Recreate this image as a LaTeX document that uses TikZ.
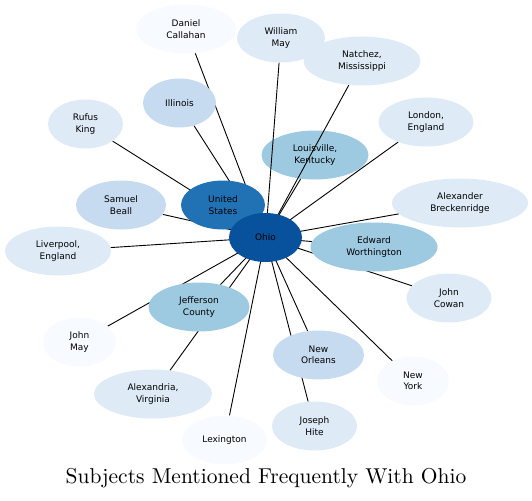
\documentclass[tikz,border=0pt]{standalone}
\usepackage{fontspec}
\newfontfamily\bubblefont{DejaVu Sans}
\newfontfamily\titlefont{lmroman10-regular}[Extension=.otf]
\usetikzlibrary{shapes.geometric}

\definecolor{ohioblue}{HTML}{08519C}
\definecolor{usblue}{HTML}{2171B5}
\definecolor{midblue}{HTML}{9ECAE1}
\definecolor{paleblue}{HTML}{C6DBEF}
\definecolor{lightblue}{HTML}{DEEBF7}
\definecolor{whiteblue}{HTML}{F7FBFF}

\pgfdeclarelayer{back}
\pgfdeclarelayer{edges}
\pgfsetlayers{back,edges,main}

\begin{document}
\begin{tikzpicture}[x=1pt,y=-1pt]
  % Parameters
  \def\bubbleheight{49pt}

  \tikzset{
    bubble/.style={ellipse, draw=none, inner sep=0pt, minimum height=\bubbleheight,
      align=center, font=\bubblefont\fontsize{9}{11.5}\selectfont, text=black},
    link/.style={draw=black, line width=0.9pt}
  }

  % Canvas
  \useasboundingbox (0,0) rectangle (532,500);

  % Node drawn below the connectors
  \begin{pgfonlayer}{back}
    \node[bubble, fill=midblue, minimum width=107pt] (louisville) at (315,155) {Louisville,\\Kentucky};
  \end{pgfonlayer}

  % Outer ring
  \node[bubble, fill=whiteblue, minimum width=100pt] (callahan) at (186,29) {Daniel\\Callahan};
  \node[bubble, fill=lightblue, minimum width=88pt] (wmay) at (281,38) {William\\May};
  \node[bubble, fill=lightblue, minimum width=117pt] (natchez) at (362,61) {Natchez,\\Mississippi};
  \node[bubble, fill=paleblue, minimum width=73pt] (illinois) at (179.5,103) {Illinois};
  \node[bubble, fill=lightblue, minimum width=75pt] (rufus) at (85.5,124) {Rufus\\King};
  \node[bubble, fill=lightblue, minimum width=95pt] (london) at (426,122) {London,\\England};
  \node[bubble, fill=paleblue, minimum width=90pt] (beall) at (121,205) {Samuel\\Beall};
  \node[bubble, fill=lightblue, minimum width=136pt] (breck) at (460,203) {Alexander\\Breckenridge};
  \node[bubble, fill=lightblue, minimum width=106pt] (liverpool) at (58,251) {Liverpool,\\England};
  \node[bubble, fill=midblue, minimum width=127pt] (worth) at (374,247) {Edward\\Worthington};
  \node[bubble, fill=lightblue, minimum width=85pt] (cowan) at (449,298) {John\\Cowan};
  \node[bubble, fill=midblue, minimum width=101pt] (jefferson) at (199,307) {Jefferson\\County};
  \node[bubble, fill=whiteblue, minimum width=73pt] (jmay) at (79.5,342) {John\\May};
  \node[bubble, fill=paleblue, minimum width=91pt] (neworleans) at (318.5,355) {New\\Orleans};
  \node[bubble, fill=lightblue, minimum width=118pt] (alexandria) at (153,394) {Alexandria,\\Virginia};
  \node[bubble, fill=whiteblue, minimum width=72pt] (newyork) at (413,381) {New\\York};
  \node[bubble, fill=lightblue, minimum width=85pt] (hite) at (314.5,426) {Joseph\\Hite};
  \node[bubble, fill=whiteblue, minimum width=85pt] (lexington) at (224.5,440) {Lexington};

  % Hub nodes
  \node[bubble, fill=usblue, minimum width=84pt] (us) at (223,205) {United\\States};
  \node[bubble, fill=ohioblue, minimum width=73pt] (ohio) at (265.5,237.5) {Ohio};

  % Connectors from the hub
  \begin{pgfonlayer}{edges}
    \foreach \n in {callahan,wmay,natchez,illinois,rufus,london,louisville,beall,breck,
                    liverpool,worth,cowan,jefferson,jmay,neworleans,alexandria,newyork,
                    hite,lexington,us} {
      \draw[link] (ohio.center) -- (\n);
    }
  \end{pgfonlayer}

  % Title
  \node[font=\titlefont\fontsize{21.5}{25}\selectfont] (title) at (266,478.5) {Subjects Mentioned Frequently With Ohio};
\end{tikzpicture}
\end{document}
